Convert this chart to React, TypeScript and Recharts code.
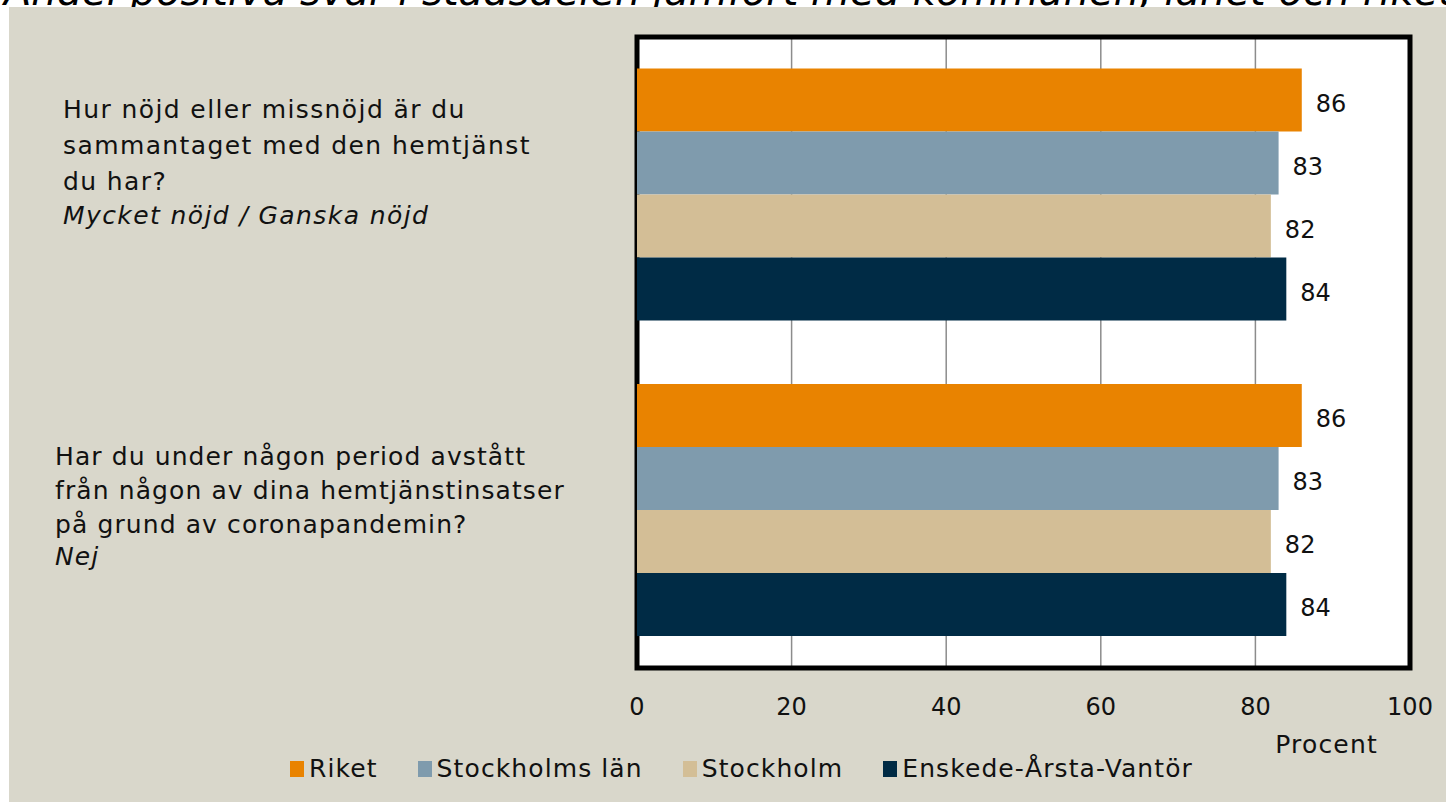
import {
  Bar,
  BarChart,
  CartesianGrid,
  LabelList,
  Legend,
  ReferenceArea,
  XAxis,
  YAxis,
} from "recharts";

const title = "Andel positiva svar i stadsdelen jämfört med kommunen, länet och riket";

const questions = ["q1", "q2"];
const questionLines = [
  ["Hur nöjd eller missnöjd är du", "sammantaget med den hemtjänst", "du har?"],
  ["Har du under någon period avstått", "från någon av dina hemtjänstinsatser", "på grund av coronapandemin?"],
];
const answerLabels = ["Mycket nöjd / Ganska nöjd", "Nej"];

const seriesNames = ["Riket", "Stockholms län", "Stockholm", "Enskede-Årsta-Vantör"];
const riket = [86, 86];
const stockholmsLan = [83, 83];
const stockholm = [82, 82];
const enskede = [84, 84];
const xTicks = [0, 20, 40, 60, 80, 100];

const colors = ["#E98300", "#7F9BAD", "#D3BE96", "#002B45"];
const keys = ["riket", "lan", "sthlm", "enskede"];
const FONT = "'DejaVu Sans', sans-serif";

const data = questions.map((q, i) => ({
  q,
  riket: riket[i],
  lan: stockholmsLan[i],
  sthlm: stockholm[i],
  enskede: enskede[i],
}));

// label blocks are placed by hand in the original, not centred on the band
const labelPos = [
  { x: 54, dy: -77, gap: 36, ls: 1.4 },
  { x: 46, dy: -45, gap: 34, ls: 1.1 },
];

function QuestionTick(props: any) {
  const { y, index } = props;
  const i = index ?? 0;
  const p = labelPos[i];
  const lines = questionLines[i];
  return (
    <text
      x={p.x}
      y={y + p.dy}
      fontSize={25}
      letterSpacing={p.ls}
      fill="#111"
      fontFamily={FONT}
      textAnchor="start"
    >
      {lines.map((l, k) => (
        <tspan key={k} x={p.x} dy={k === 0 ? 0 : p.gap}>
          {l}
        </tspan>
      ))}
      <tspan x={p.x} dy={p.gap - 2} fontStyle="italic">
        {answerLabels[i]}
      </tspan>
    </text>
  );
}

function ValueTick(props: any) {
  const { x, y, payload } = props;
  return (
    <text x={x} y={y + 31} fontSize={24} fill="#111" fontFamily={FONT} textAnchor="middle" dominantBaseline="central">
      {payload.value}
    </text>
  );
}

function LegendContent() {
  return (
    <div
      style={{
        display: "flex",
        justifyContent: "center",
        paddingLeft: 28,
        fontFamily: FONT,
        fontSize: 25,
        letterSpacing: 1.1,
        color: "#111",
      }}
    >
      {seriesNames.map((n, i) => (
        <div key={n} style={{ display: "flex", alignItems: "center", marginRight: i < 3 ? 40 : 0 }}>
          <span style={{ width: 14, height: 16, background: colors[i], marginRight: 5, display: "inline-block" }} />
          <span>{n}</span>
        </div>
      ))}
    </div>
  );
}

export default function App() {
  return (
    <div
      style={{
        position: "absolute",
        left: 0,
        top: 0,
        width: 1446,
        height: 802,
        background: "#fff",
        overflow: "hidden",
      }}
    >
      <svg width={1446} height={7} style={{ position: "absolute", left: 0, top: 0 }}>
        <text x={4} y={5} fontSize={40} fontStyle="italic" fontFamily={FONT} fill="#000">
          {title}
        </text>
      </svg>
      <div style={{ position: "absolute", left: 9, top: 7, width: 1437, height: 795, background: "#D9D7CB" }}>
        <BarChart
          width={1437}
          height={795}
          data={data}
          layout="vertical"
          margin={{ top: 30, right: 36, bottom: 34, left: 0 }}
          barCategoryGap="10%"
          barGap={0}
          style={{ fontFamily: FONT }}
        >
          <CartesianGrid horizontal={false} stroke="#8c8c8c" strokeWidth={1.5} fill="#fff" fillOpacity={1} />
          <XAxis
            type="number"
            domain={[0, 100]}
            ticks={xTicks}
            height={100}
            axisLine={false}
            tickLine={false}
            tick={<ValueTick />}
            interval={0}
            label={{
              value: "Procent",
              position: "insideBottomRight",
              offset: 20,
              dx: -12,
              dy: 5,
              fontSize: 25,
              letterSpacing: 1.2,
              fill: "#111",
            }}
          />
          <YAxis type="category" dataKey="q" width={628} axisLine={false} tickLine={false} tick={<QuestionTick />} />
          <ReferenceArea x1={0} x2={100} fill="none" stroke="#000" strokeWidth={5} />
          {keys.map((k, i) => (
            <Bar key={k} dataKey={k} name={seriesNames[i]} fill={colors[i]} isAnimationActive={false}>
              <LabelList dataKey={k} position="right" offset={14} fontSize={24} fill="#111" dy={3} />
            </Bar>
          ))}
          <Legend
            verticalAlign="middle"
            align="center"
            content={<LegendContent />}
            wrapperStyle={{ top: 747, left: 0, width: 1437 }}
          />
        </BarChart>
      </div>
    </div>
  );
}
